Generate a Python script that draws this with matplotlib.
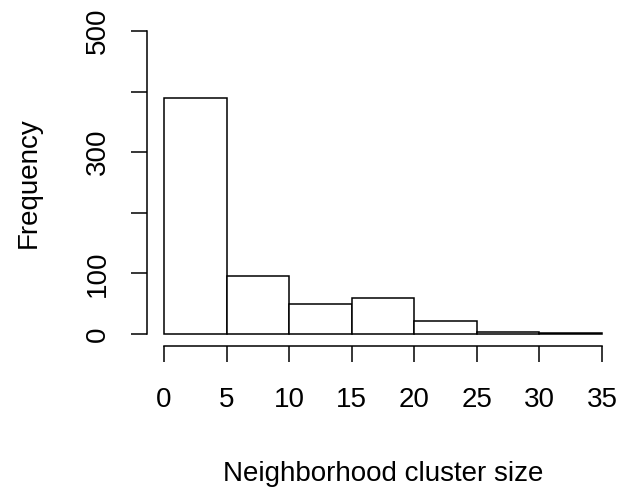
import matplotlib
matplotlib.use("Agg")
import matplotlib.pyplot as plt
import numpy as np

bin_edges = [0, 5, 10, 15, 20, 25, 30, 35]
counts = [389, 95, 50, 59, 22, 3, 1]
x_ticks = [0, 5, 10, 15, 20, 25, 30, 35]
y_ticks = [0, 100, 200, 300, 400, 500]
y_tick_labels = ["0", "100", "", "300", "", "500"]
x_label = "Neighborhood cluster size"
y_label = "Frequency"

plt.rcParams['font.family'] = ['Liberation Sans', 'DejaVu Sans']
fs = 20

fig = plt.figure(figsize=(6.22, 4.90), dpi=100)
ax = fig.add_axes([146.5/622, (490-346.1)/490, 473/622, 327.2/490])
ax.bar(bin_edges[:-1], counts, width=np.diff(bin_edges), align='edge',
       facecolor='white', edgecolor='black', linewidth=1.1)
ax.set_xlim(-1.4, 36.4)
ax.set_ylim(-20, 520)
for s in ['top', 'right']:
    ax.spines[s].set_visible(False)
ax.spines['left'].set_bounds(0, 500)
ax.spines['bottom'].set_bounds(0, 35)
ax.spines['left'].set_linewidth(1.1)
ax.spines['bottom'].set_linewidth(1.1)
ax.set_xticks(x_ticks)
ax.set_xticklabels([str(t) for t in x_ticks], fontsize=fs)
ax.set_yticks(y_ticks)
ax.set_yticklabels(y_tick_labels, fontsize=fs, rotation=90, va='center')
ax.tick_params(axis='both', length=11.5, width=1.1, color='black')
ax.tick_params(axis='x', pad=17.8)
ax.tick_params(axis='y', pad=14)
ax.set_xlabel(x_label, fontsize=fs, labelpad=35)
ax.set_ylabel(y_label, fontsize=fs, labelpad=31)
fig.savefig("out.png", dpi=100)
